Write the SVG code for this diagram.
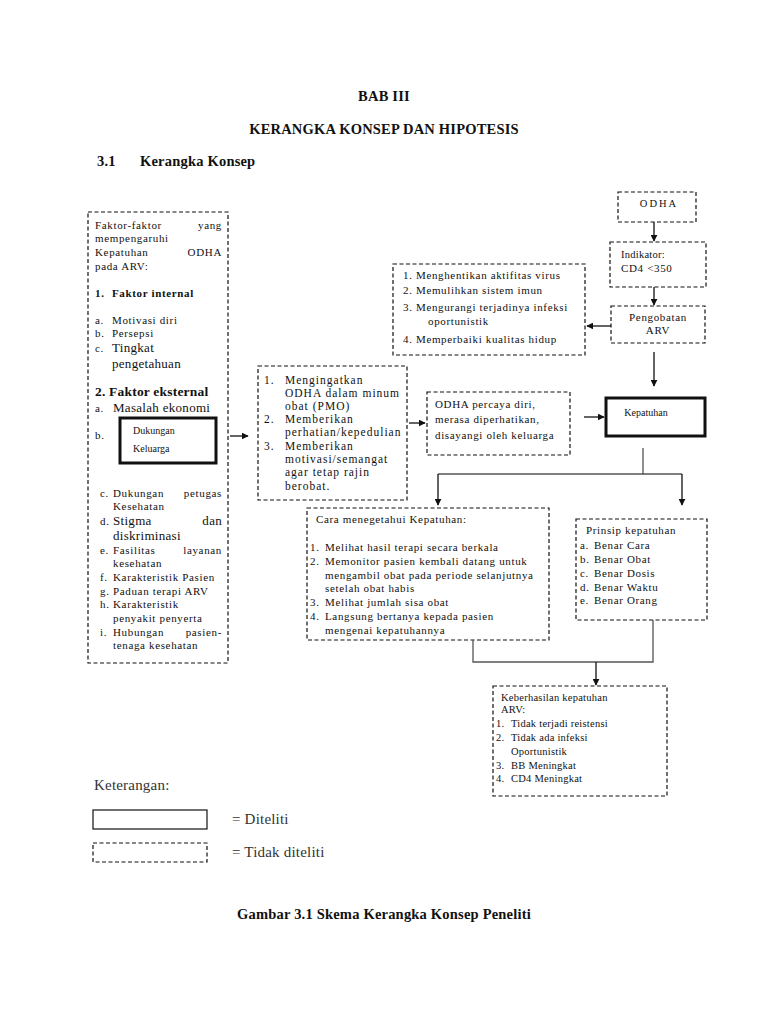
<svg xmlns="http://www.w3.org/2000/svg" width="768" height="1024" viewBox="0 0 768 1024">
<style>
text{font-family:"Liberation Serif","DejaVu Serif",serif;fill:#111;font-size:11px;letter-spacing:0.65px}
.h{font-weight:bold;font-size:14.5px;letter-spacing:0.2px}
.b{font-weight:bold}
.big{font-size:13px;letter-spacing:0.3px}
.pmo{font-size:11.5px;letter-spacing:1px}
.sm{font-size:10.5px;letter-spacing:0.25px}
.k{font-size:10px;letter-spacing:0}
.d{fill:none;stroke:#111;stroke-width:1.2;stroke-dasharray:4 2.5}
.s{fill:none;stroke:#111;stroke-width:3}
.c{fill:none;stroke:#111;stroke-width:1.3}
.g{fill:none;stroke:#555;stroke-width:1.3}
.leg{font-size:15px;fill:#333;letter-spacing:0.2px}
</style>
<defs>
<marker id="ah" viewBox="0 0 10 10" refX="9" refY="5" markerWidth="7" markerHeight="7" markerUnits="userSpaceOnUse" orient="auto"><path d="M0,0 L10,5 L0,10 z" fill="#111"/></marker>
</defs>
<rect width="768" height="1024" fill="#fff"/>

<text class="h" x="384" y="101" text-anchor="middle">BAB III</text>
<text class="h" x="384" y="134" text-anchor="middle">KERANGKA KONSEP DAN HIPOTESIS</text>
<text class="h" x="97" y="166">3.1</text>
<text class="h" x="140" y="166">Kerangka Konsep</text>

<g id="faktor">
<rect class="d" x="88" y="212" width="140" height="451"/>
<text x="95" y="229">Faktor-faktor</text><text x="222" y="229" text-anchor="end">yang</text>
<text x="95" y="242">mempengaruhi</text>
<text x="95" y="256">Kepatuhan</text><text x="222" y="256" text-anchor="end">ODHA</text>
<text x="95" y="270">pada ARV:</text>
<text class="b" x="95" y="297">1.</text><text class="b" x="112" y="297">Faktor internal</text>
<text x="95" y="324">a.</text><text x="112" y="324">Motivasi diri</text>
<text x="95" y="337">b.</text><text x="112" y="337">Persepsi</text>
<text x="95" y="352">c.</text><text class="big" x="112" y="352">Tingkat</text>
<text class="big" x="112" y="368">pengetahuan</text>
<text class="b" x="95" y="396" style="font-size:13.5px;letter-spacing:0.2px">2. Faktor eksternal</text>
<text x="95" y="412">a.</text><text class="big" x="113" y="412">Masalah ekonomi</text>
<text x="95" y="439">b.</text>
<text x="100" y="497">c.</text><text x="113" y="497">Dukungan</text><text x="222" y="497" text-anchor="end">petugas</text>
<text x="113" y="510">Kesehatan</text>
<text x="100" y="525">d.</text><text class="big" x="113" y="525">Stigma</text><text class="big" x="222" y="525" text-anchor="end">dan</text>
<text class="big" x="113" y="540">diskriminasi</text>
<text x="100" y="554">e.</text><text x="113" y="554">Fasilitas</text><text x="222" y="554" text-anchor="end">layanan</text>
<text x="113" y="567">kesehatan</text>
<text x="100" y="581">f.</text><text x="113" y="581">Karakteristik Pasien</text>
<text x="100" y="595">g.</text><text x="113" y="595">Paduan terapi ARV</text>
<text x="100" y="608">h.</text><text x="113" y="608">Karakteristik</text>
<text x="113" y="622">penyakit penyerta</text>
<text x="100" y="636">i.</text><text x="113" y="636">Hubungan</text><text x="222" y="636" text-anchor="end">pasien-</text>
<text x="113" y="649">tenaga kesehatan</text>
</g>

<g id="dukungan">
<rect class="s" x="120" y="418" width="96" height="45"/>
<text class="k" x="133" y="434">Dukungan</text>
<text class="k" x="133" y="452">Keluarga</text>
</g>

<g id="pmo">
<rect class="d" x="258" y="366" width="149" height="134"/>
<text class="pmo" x="264" y="384">1.</text><text class="pmo" x="285" y="384">Mengingatkan</text>
<text class="pmo" x="285" y="397">ODHA dalam minum</text>
<text class="pmo" x="285" y="410">obat (PMO)</text>
<text class="pmo" x="264" y="423">2.</text><text class="pmo" x="285" y="423">Memberikan</text>
<text class="pmo" x="285" y="436">perhatian/kepedulian</text>
<text class="pmo" x="264" y="450">3.</text><text class="pmo" x="285" y="450">Memberikan</text>
<text class="pmo" x="285" y="463">motivasi/semangat</text>
<text class="pmo" x="285" y="476">agar tetap rajin</text>
<text class="pmo" x="285" y="490">berobat.</text>
</g>

<g id="percaya">
<rect class="d" x="427" y="392" width="143" height="63"/>
<text x="435" y="408">ODHA percaya diri,</text>
<text x="435" y="423">merasa diperhatikan,</text>
<text x="435" y="439">disayangi oleh keluarga</text>
</g>

<g id="kepatuhan">
<rect class="s" x="606" y="398" width="99" height="38"/>
<text class="k" x="646" y="416" text-anchor="middle">Kepatuhan</text>
</g>

<g id="odha">
<rect class="d" x="618" y="192" width="78" height="30"/>
<text class="sm" x="659" y="207" text-anchor="middle" style="letter-spacing:2px">ODHA</text>
</g>

<g id="indikator">
<rect class="d" x="610" y="242" width="96" height="45"/>
<text class="sm" x="621" y="258">Indikator:</text>
<text x="621" y="272">CD4 &lt;350</text>
</g>

<g id="pengobatan">
<rect class="d" x="611" y="306" width="94" height="37"/>
<text x="658" y="321" text-anchor="middle">Pengobatan</text>
<text x="658" y="334" text-anchor="middle">ARV</text>
</g>

<g id="tujuan">
<rect class="d" x="393" y="264" width="192" height="91"/>
<text x="403" y="279">1. Menghentikan aktifitas virus</text>
<text x="403" y="294">2. Memulihkan sistem imun</text>
<text x="403" y="311">3. Mengurangi terjadinya infeksi</text>
<text x="428" y="325">oportunistik</text>
<text x="403" y="343">4. Memperbaiki kualitas hidup</text>
</g>

<g id="cara">
<rect class="d" x="307" y="508" width="242" height="132"/>
<text x="316" y="523">Cara menegetahui Kepatuhan:</text>
<text x="310" y="551">1.</text><text x="325" y="551">Melihat hasil terapi secara berkala</text>
<text x="310" y="565">2.</text><text x="325" y="565">Memonitor pasien kembali datang untuk</text>
<text x="325" y="579">mengambil obat pada periode selanjutnya</text>
<text x="325" y="592">setelah obat habis</text>
<text x="310" y="606">3.</text><text x="325" y="606">Melihat jumlah sisa obat</text>
<text x="310" y="620">4.</text><text x="325" y="620">Langsung bertanya kepada pasien</text>
<text x="325" y="634">mengenai kepatuhannya</text>
</g>

<g id="prinsip">
<rect class="d" x="576" y="519" width="131" height="101"/>
<text x="586" y="534">Prinsip kepatuhan</text>
<text x="580" y="549">a.</text><text x="594" y="549">Benar Cara</text>
<text x="580" y="563">b.</text><text x="594" y="563">Benar Obat</text>
<text x="580" y="577">c.</text><text x="594" y="577">Benar Dosis</text>
<text x="580" y="591">d.</text><text x="594" y="591">Benar Waktu</text>
<text x="580" y="604">e.</text><text x="594" y="604">Benar Orang</text>
</g>

<g id="keberhasilan">
<rect class="d" x="493" y="686" width="174" height="110"/>
<text class="sm" x="501" y="701">Keberhasilan kepatuhan</text>
<text class="sm" x="501" y="713">ARV:</text>
<text class="sm" x="496" y="727">1.</text><text class="sm" x="511" y="727">Tidak terjadi reistensi</text>
<text class="sm" x="496" y="741">2.</text><text class="sm" x="511" y="741">Tidak ada infeksi</text>
<text class="sm" x="511" y="755">Oportunistik</text>
<text class="sm" x="496" y="769">3.</text><text class="sm" x="511" y="769">BB Meningkat</text>
<text class="sm" x="496" y="782">4.</text><text class="sm" x="511" y="782">CD4 Meningkat</text>
</g>

<g id="connectors">
<line class="c" x1="230" y1="436" x2="248" y2="436" marker-end="url(#ah)"/>
<line class="c" x1="409" y1="423" x2="425" y2="423" marker-end="url(#ah)"/>
<line class="c" x1="584" y1="417" x2="604" y2="417" marker-end="url(#ah)"/>
<line class="c" x1="654" y1="222" x2="654" y2="241" marker-end="url(#ah)"/>
<line class="c" x1="654" y1="287" x2="654" y2="305" marker-end="url(#ah)"/>
<line class="c" x1="611" y1="326" x2="587" y2="326" marker-end="url(#ah)"/>
<line class="c" x1="654" y1="352" x2="654" y2="386" marker-end="url(#ah)"/>
<polyline class="g" points="643,448 643,474 438,474"/>
<line class="g" x1="643" y1="474" x2="682" y2="474"/>
<line class="c" x1="438" y1="474" x2="438" y2="505" marker-end="url(#ah)"/>
<line class="c" x1="682" y1="474" x2="682" y2="505" marker-end="url(#ah)"/>
<polyline class="g" points="473,640 473,662 653,662 653,620"/>
<line class="c" x1="596" y1="662" x2="596" y2="685" marker-end="url(#ah)"/>
</g>

<g id="legend">
<text class="leg" x="94" y="790">Keterangan:</text>
<rect x="93" y="810" width="114" height="19" fill="none" stroke="#111" stroke-width="1.2"/>
<text class="leg" x="232" y="824">= Diteliti</text>
<rect class="d" x="93" y="843" width="114" height="19"/>
<text class="leg" x="232" y="857">= Tidak diteliti</text>
</g>

<text class="h" x="384" y="919" text-anchor="middle">Gambar 3.1 Skema Kerangka Konsep Peneliti</text>
</svg>
